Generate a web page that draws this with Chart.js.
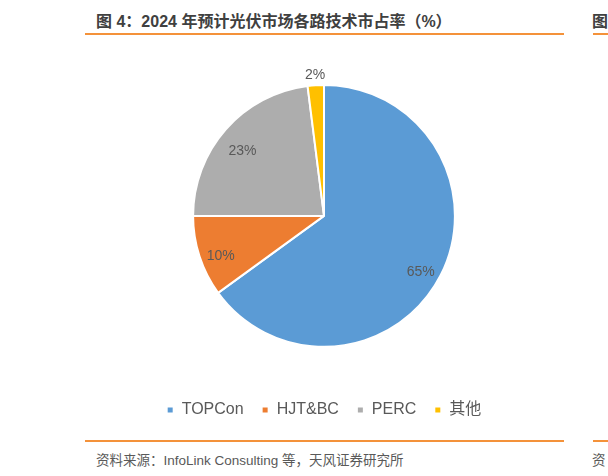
<!DOCTYPE html>
<html><head><meta charset="utf-8">
<script src="https://cdn.jsdelivr.net/npm/chart.js@4/dist/chart.umd.min.js"></script>
<style>
html,body{margin:0;padding:0;background:#fff;width:608px;height:476px;overflow:hidden;position:relative;font-family:"Liberation Sans","Noto Sans CJK SC",sans-serif;}
.t{position:absolute;white-space:nowrap;}
#title{left:96px;top:8px;font-size:16px;font-weight:bold;color:#404040;}
#foot{left:96px;top:449px;font-size:13.5px;color:#595959;}
.line{position:absolute;height:2px;background:#f4923a;}
#chartWrap{position:absolute;left:0;top:0;width:608px;height:476px;}
</style></head>
<body>
<div class="t" id="title">图 4：2024 年预计光伏市场各路技术市占率（%）</div>
<div class="line" style="left:85px;top:33px;width:479px;"></div>
<div class="t" style="left:592px;top:8px;font-size:16px;font-weight:bold;color:#404040;">图</div>
<div class="line" style="left:593px;top:33px;width:15px;"></div>
<div class="line" style="left:85px;top:440px;width:479px;"></div>
<div class="line" style="left:593px;top:440px;width:15px;"></div>
<div class="t" id="foot">资料来源：InfoLink Consulting 等，天风证券研究所</div>
<div class="t" style="left:592px;top:449px;font-size:13.5px;color:#595959;">资</div>
<div id="chartWrap"><canvas id="c" width="608" height="476"></canvas></div>
<script>
const categories = ["TOPCon", "HJT&BC", "PERC", "其他"];
const shares = [65, 10, 23, 2];
const valueLabels = ["65%", "10%", "23%", "2%"];
const colors = ["#5b9bd5", "#ed7d31", "#adadad", "#ffc000"];

const labelPlugin = {
  id: 'sliceLabels',
  afterDatasetsDraw(chart) {
    const ctx = chart.ctx;
    const meta = chart.getDatasetMeta(0);
    const total = shares.reduce((a, b) => a + b, 0);
    ctx.save();
    ctx.font = '14px "Liberation Sans", sans-serif';
    ctx.fillStyle = '#595959';
    ctx.textAlign = 'center';
    ctx.textBaseline = 'middle';
    meta.data.forEach((arc, i) => {
      const p = arc.getProps(['x', 'y', 'startAngle', 'endAngle', 'outerRadius'], true);
      const mid = (p.startAngle + p.endAngle) / 2;
      const small = shares[i] / total < 0.05;
      const f = small ? 1.08 : 0.83;
      const dy = small ? 0 : 7;
      ctx.fillText(valueLabels[i], p.x + Math.cos(mid) * p.outerRadius * f, p.y + Math.sin(mid) * p.outerRadius * f + dy);
    });
    ctx.restore();
  }
};

new Chart(document.getElementById('c'), {
  type: 'pie',
  data: {
    labels: categories,
    datasets: [{
      data: shares,
      backgroundColor: colors,
      borderColor: '#ffffff',
      borderWidth: 2,
      hoverOffset: 0
    }]
  },
  options: {
    responsive: false,
    animation: false,
    events: [],
    layout: { padding: { top: 84, bottom: 48, left: 40, right: 0 } },
    plugins: {
      tooltip: { enabled: false },
      legend: {
        position: 'bottom',
        title: { display: true, text: ' ', font: { size: 1 }, padding: { top: 35, bottom: 0 } },
        labels: {
          boxWidth: 7, boxHeight: 7, padding: 18,
          color: '#595959',
          font: { size: 16, family: '"Liberation Sans", "Noto Sans CJK SC", sans-serif' }
        }
      }
    }
  },
  plugins: [labelPlugin]
});
</script>
</body></html>
